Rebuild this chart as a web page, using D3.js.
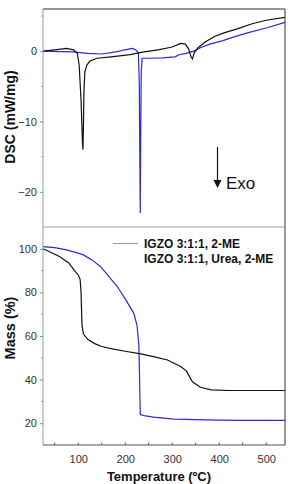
<!DOCTYPE html>
<html>
<head>
<meta charset="utf-8">
<script src="https://cdn.jsdelivr.net/npm/d3@7"></script>
<style>
  body { margin: 0; background: #fff; }
  svg { font-family: "Liberation Sans", Arial, sans-serif; }
</style>
</head>
<body>
<div id="vis"></div>
<script>
const WIDTH = 288;
const HEIGHT = 484;

// datos: [temperatura, valor]
const dscIgzo = [[25,0],[50,0.2],[75,0.4],[90,0.2],[98,-0.3],[102,-2],[106,-7],[109,-13],[110,-14],[111,-11],
  [112,-6],[114,-3],[118,-2],[125,-1.4],[140,-1],[170,-0.8],[210,-0.5],[240,-0.1],[270,0.2],[300,0.6],
  [318,1.1],[328,1.0],[335,0.3],[340,-0.8],[343,-1.1],[347,-0.2],[355,0.5],[370,1.3],[390,2.1],[410,2.6],
  [440,3.2],[470,3.9],[500,4.4],[540,4.8]];
const dscUrea = [[25,0],[60,-0.05],[90,-0.1],[120,-0.3],[150,-0.4],[180,-0.1],[200,0.2],[215,0.4],[222,0.2],
  [228,-0.2],[230,-5],[231,-15],[232,-23],[233,-12],[234,-3],[236,-1],[250,-1],[280,-0.95],[306,-0.8],
  [315,-0.5],[330,-0.3],[345,0.0],[360,0.5],[380,1.0],[408,1.5],[430,2.0],[460,2.6],[500,3.3],[540,4.1]];
const tgaIgzo = [[25,100],[40,98.5],[60,96.5],[80,93.5],[92,90],[100,88],[104,86],[106,80],[107,72],[108,65],
  [111,61],[120,58.5],[135,56.5],[150,55.2],[175,54],[200,53],[233,51.8],[260,50.5],[290,49],[318,46],
  [330,44],[343,39],[360,36.5],[383,35.3],[420,35],[540,35]];
const tgaUrea = [[25,101],[50,100.5],[75,99.5],[100,98],[111,97.2],[130,94.8],[147,91.9],[165,87.3],[183,82.7],
  [200,77],[218,70.5],[225,65],[229,56],[230,47],[231,35],[232,24],[240,23.5],[260,22.8],[303,21.9],
  [350,21.6],[400,21.4],[446,21.3],[540,21.3]];

const xTicks = [100, 200, 300, 400, 500];
const dscTicks = [0, -10, -20];
const massTicks = [20, 40, 60, 80, 100];
const leyenda = ["IGZO 3:1:1, 2-ME", "IGZO 3:1:1, Urea, 2-ME"];

const NEGRO = "#111";
const AZUL = "#2a2ae0";

const SVG = d3.select("#vis").append("svg").attr("width", WIDTH).attr("height", HEIGHT);

const escalaX = d3.scaleLinear().domain([25, 540]).range([43, 285]);
const escalaDsc = d3.scaleLinear().domain([-25, 6]).range([227, 9]);
const escalaMasa = d3.scaleLinear().domain([10, 110]).range([445, 227]);

function linea(escalaY) {
  return d3.line().x(d => escalaX(d[0])).y(d => escalaY(d[1]));
}

function ejeY(escalaY, ticks, menores) {
  const g = SVG.append("g").attr("transform", "translate(43,0)");
  g.call(d3.axisLeft(escalaY).tickValues(ticks).tickSize(3).tickPadding(3).tickFormat(d3.format("d")));
  g.select(".domain").remove();
  g.selectAll(".tick line").attr("stroke", "#888");
  g.selectAll(".tick text").attr("fill", "#333").style("font-size", "11px");
  g.selectAll(".menor").data(menores).join("line")
    .attr("class", "menor")
    .attr("x1", 0).attr("x2", -2)
    .attr("y1", d => escalaY(d)).attr("y2", d => escalaY(d))
    .attr("stroke", "#999");
}

ejeY(escalaDsc, dscTicks, [5, -5, -15]);
ejeY(escalaMasa, massTicks, [30, 50, 70, 90]);

// eje x abajo
const gx = SVG.append("g").attr("transform", "translate(0,445)");
gx.call(d3.axisBottom(escalaX).tickValues(xTicks).tickSize(0).tickPadding(10));
gx.select(".domain").remove();
gx.selectAll(".tick text").attr("fill", "#333").style("font-size", "11px");
gx.selectAll(".marca").data([50, 100, 150, 200, 250, 300, 350, 400, 450, 500]).join("line")
  .attr("class", "marca")
  .attr("x1", d => escalaX(d)).attr("x2", d => escalaX(d))
  .attr("y1", 0).attr("y2", -2.5)
  .attr("stroke", "#555");

// curvas
SVG.append("path").datum(dscUrea).attr("d", linea(escalaDsc))
  .attr("fill", "none").attr("stroke", AZUL).attr("stroke-width", 1.2);
SVG.append("path").datum(dscIgzo).attr("d", linea(escalaDsc))
  .attr("fill", "none").attr("stroke", NEGRO).attr("stroke-width", 1.2);
SVG.append("path").datum(tgaUrea).attr("d", linea(escalaMasa))
  .attr("fill", "none").attr("stroke", AZUL).attr("stroke-width", 1.2);
SVG.append("path").datum(tgaIgzo).attr("d", linea(escalaMasa))
  .attr("fill", "none").attr("stroke", NEGRO).attr("stroke-width", 1.2);

// bordes de los paneles
SVG.append("line").attr("x1", 43).attr("x2", 43).attr("y1", 9).attr("y2", 445).attr("stroke", "#999");
SVG.append("line").attr("x1", 43).attr("x2", 285).attr("y1", 227).attr("y2", 227).attr("stroke", "#999");
SVG.append("line").attr("x1", 43).attr("x2", 285).attr("y1", 445).attr("y2", 445).attr("stroke", "#555");
SVG.append("line").attr("x1", 43).attr("x2", 285).attr("y1", 9).attr("y2", 9).attr("stroke", "#333");
SVG.append("line").attr("x1", 285).attr("x2", 285).attr("y1", 9).attr("y2", 445).attr("stroke", "#333");

// flecha Exo
SVG.append("line").attr("x1", 217.5).attr("x2", 217.5).attr("y1", 147).attr("y2", 181)
  .attr("stroke", "#111").attr("stroke-width", 1.2);
SVG.append("path").attr("d", "M213.5,180 L221.5,180 L217.5,188 Z").attr("fill", "#111");
SVG.append("text").attr("x", 226).attr("y", 188.5)
  .style("font-size", "17px").attr("fill", "#111").text("Exo");

// leyenda
SVG.append("line").attr("x1", 113).attr("x2", 138).attr("y1", 243.5).attr("y2", 243.5)
  .attr("stroke", "#999").attr("stroke-width", 1);
SVG.selectAll(".leyenda").data(leyenda).join("text")
  .attr("class", "leyenda")
  .attr("x", 144)
  .attr("y", (d, i) => 247.5 + i * 15)
  .style("font-size", "12px").style("font-weight", "bold")
  .attr("fill", "#111")
  .text(d => d);

// titulos de ejes
SVG.append("text").attr("transform", "translate(15,117) rotate(-90)")
  .attr("text-anchor", "middle").style("font-size", "14px").style("font-weight", "bold")
  .attr("fill", "#111").text("DSC (mW/mg)");
SVG.append("text").attr("transform", "translate(15,328) rotate(-90)")
  .attr("text-anchor", "middle").style("font-size", "14.5px").style("font-weight", "bold")
  .attr("fill", "#111").text("Mass (%)");
SVG.append("text").attr("x", 159).attr("y", 481)
  .attr("text-anchor", "middle").style("font-size", "13px").style("font-weight", "bold")
  .attr("fill", "#111").text("Temperature (ºC)");
</script>
</body>
</html>
